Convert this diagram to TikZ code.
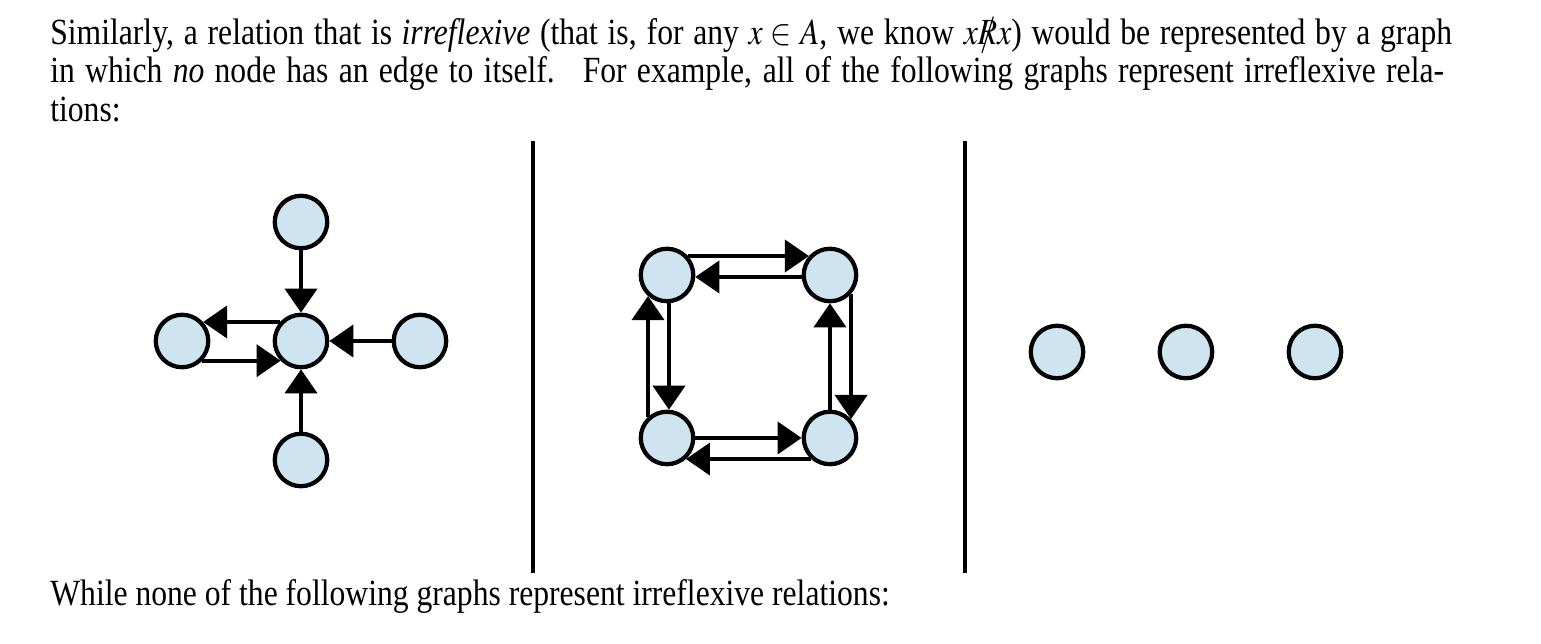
\documentclass[tikz,border=0pt]{standalone}
\usepackage{mathptmx}
\usepackage[no-math]{fontspec}
\setmainfont{Liberation Serif}
\usepackage{graphicx}
\usepackage{tikz}
\usetikzlibrary{positioning,arrows.meta}

\definecolor{nodeblue}{RGB}{207,228,241}
\newcommand{\narrowtext}[1]{\scalebox{0.857}[1]{#1}}
\newcommand{\notrel}{\ooalign{$R$\cr\hfil$/$\hfil}}
\tikzset{
  vert/.style={circle,draw=black,fill=nodeblue,line width=0.085cm,minimum size=1.05cm,inner sep=0pt},
  rel/.style={line width=0.08cm,-{Triangle[length=0.48cm,width=0.64cm]}},
  txt/.style={anchor=base west,inner sep=0pt,font=\fontsize{21}{22}\selectfont},
}

\begin{document}
\begin{tikzpicture}[x=0.02cm,y=-0.02cm]
\useasboundingbox (0,0) rectangle (1541,644);

% text above and below
\node[txt] (line_1) at (50,45) {\narrowtext{\makebox[32.72cm][s]{Similarly, a relation that is \textit{irreflexive} (that is, for any $x \in A$, we know $x$\notrel$x$) would be represented by a graph}}};
\node[txt] (line_2) at (50,83) {\narrowtext{\makebox[32.53cm][s]{in which \textit{no} node has an edge to itself. \ For example, all of the following graphs represent irreflexive rela-}}};
\node[txt] (line_3) at (50,122) {\narrowtext{tions:}};
\node[txt] (line_4) at (50,605) {\narrowtext{While none of the following graphs represent irreflexive relations:}};

% separators
\coordinate (s_1) at (533,141);
\coordinate (s_2) at (965,141);
\draw[line width=0.08cm] (s_1) -- ++(0,432);
\draw[line width=0.08cm] (s_2) -- ++(0,432);

% first graph
\begin{scope}[node distance=2.38cm,on grid]
  \node[vert] (a_c) at (301,341) {};
  \node[vert] (a_n) [above=of a_c] {};
  \node[vert] (a_s) [below=of a_c] {};
  \node[vert] (a_w) [left=of a_c] {};
  \node[vert] (a_e) [right=of a_c] {};
\end{scope}
\draw[rel] (a_n) -- (a_c);
\draw[rel] (a_s) -- (a_c);
\draw[rel] (a_e) -- (a_c);
\draw[rel] (a_c.138) -- (a_w.42);
\draw[rel] (a_w.-44) -- (a_c.224);

% second graph
\begin{scope}[node distance=3.26cm,on grid]
  \node[vert] (b_1) at (667,275) {};
  \node[vert] (b_2) [right=of b_1] {};
  \node[vert] (b_3) [below=of b_1] {};
  \node[vert] (b_4) [right=of b_3] {};
\end{scope}
\draw[rel] (b_1.42) -- (b_2.138);
\draw[rel] (b_2.184) -- (b_1.-4);
\draw[rel] (b_3.132) -- (b_1.228);
\draw[rel] (b_1.-86) -- (b_3.86);
\draw[rel] (b_3) -- (b_4);
\draw[rel] (b_4.228) -- (b_3.-48);
\draw[rel] (b_4) -- (b_2);
\draw[rel] (b_2.-42) -- (b_4.42);

% third graph
\begin{scope}[node distance=2.58cm,on grid]
  \node[vert] (c_1) at (1057,352) {};
  \node[vert] (c_2) [right=of c_1] {};
  \node[vert] (c_3) [right=of c_2] {};
\end{scope}
\end{tikzpicture}
\end{document}
